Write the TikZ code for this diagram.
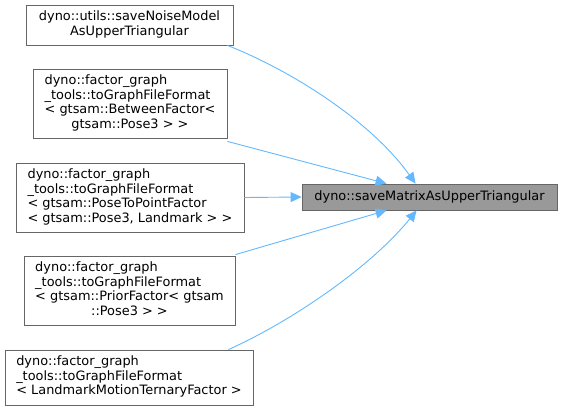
\documentclass[tikz,border=0pt]{standalone}
\usepackage{fontspec}
\setmainfont{DejaVu Sans}
\usetikzlibrary{arrows.meta}
\definecolor{edgeblue}{HTML}{63B8FF}
\definecolor{boxborder}{HTML}{666666}
\definecolor{targetfill}{HTML}{999999}
\begin{document}
\begin{tikzpicture}[x=1pt,y=-1pt,
  box/.style={draw=boxborder,fill=white,line width=0.8pt,rectangle,inner sep=0pt,
    font=\fontsize{12.9}{14.5}\selectfont},
  target/.style={box,fill=targetfill},
  edge/.style={draw=edgeblue,line width=0.9pt,
    -{Triangle[length=11pt,width=10pt,fill=edgeblue]}}]
\useasboundingbox (0,0) rectangle (563,410);

\node[box,minimum width=207pt,minimum height=40pt] (n1) at (129.5,25)
  {\begin{tabular}{@{}c@{}}dyno::utils::saveNoiseModel\\AsUpperTriangular\end{tabular}};
\node[box,minimum width=194pt,minimum height=69pt] (n2) at (130,103.5)
  {\begin{tabular}{@{}l@{}}dyno::factor\_graph\\\_tools::toGraphFileFormat\\< gtsam::BetweenFactor<\\\multicolumn{1}{@{}c@{}}{gtsam::Pose3 > >}\end{tabular}};
\node[box,minimum width=228pt,minimum height=69pt] (n3) at (130,197.5)
  {\begin{tabular}{@{}l@{}}dyno::factor\_graph\\\_tools::toGraphFileFormat\\< gtsam::PoseToPointFactor\\< gtsam::Pose3, Landmark > >\end{tabular}};
\node[box,minimum width=211pt,minimum height=69pt] (n4) at (129.5,290.5)
  {\begin{tabular}{@{}l@{}}dyno::factor\_graph\\\_tools::toGraphFileFormat\\< gtsam::PriorFactor< gtsam\\\multicolumn{1}{@{}c@{}}{::Pose3 > >}\end{tabular}};
\node[box,minimum width=248pt,minimum height=55pt] (n5) at (129,377.5)
  {\begin{tabular}{@{}l@{}}dyno::factor\_graph\\\_tools::toGraphFileFormat\\< LandmarkMotionTernaryFactor >\end{tabular}};
\node[target,minimum width=255pt,minimum height=26pt] (t) at (429.5,197)
  {dyno::saveMatrixAsUpperTriangular};

\draw[edge] ([xshift=-6pt]n1.south east) .. controls (290,70) and (370,120) .. ([xshift=114pt]t.north west);
\draw[edge] ([yshift=-3pt]n2.south east) -- ([xshift=85pt]t.north west);
\draw[edge] (n3.east) -- (t.west);
\draw[edge] ([yshift=1pt]n4.north east) -- ([xshift=85pt]t.south west);
\draw[edge] ([xshift=-25pt]n5.north east) .. controls (290,322) and (370,268) .. ([xshift=115pt]t.south west);
\end{tikzpicture}
\end{document}
